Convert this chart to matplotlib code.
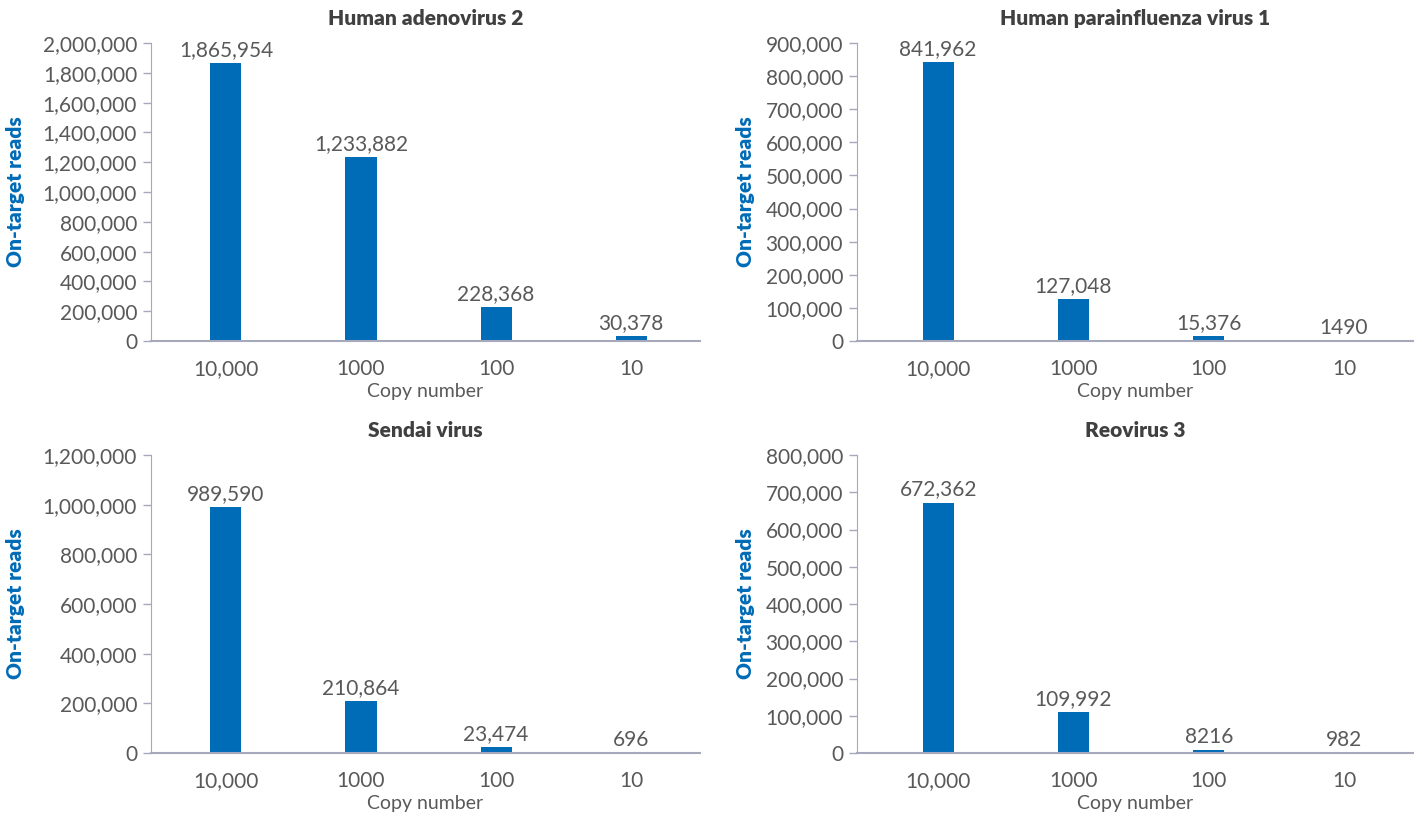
import numpy as np
import matplotlib.pyplot as plt
from matplotlib.ticker import FuncFormatter

plt.rcParams['font.family'] = ['Lato', 'DejaVu Sans']

copy_numbers = ["10,000", "1000", "100", "10"]

titles = ["Human adenovirus 2", "Human parainfluenza virus 1",
          "Sendai virus", "Reovirus 3"]

adenovirus_reads = [1865954, 1233882, 228368, 30378]
parainfluenza_reads = [841962, 127048, 15376, 1490]
sendai_reads = [989590, 210864, 23474, 696]
reovirus_reads = [672362, 109992, 8216, 982]

y_max = [2000000, 900000, 1200000, 800000]
y_step = [200000, 100000, 200000, 100000]

BAR = "#006bb6"
TEXT = "#595959"
SPINE = "#a6a9bc"


def label_fmt(v):
    # four-digit counts are written without a thousands separator
    v = int(v)
    return str(v) if v < 10000 else f"{v:,}"


fig = plt.figure(figsize=(14.22, 8.16), dpi=100)

boxes = [
    (151 / 1422, 1 - 341 / 816, 549 / 1422, 298 / 816),
    (857 / 1422, 1 - 341 / 816, 556 / 1422, 298 / 816),
    (151 / 1422, 1 - 753 / 816, 549 / 1422, 298 / 816),
    (857 / 1422, 1 - 753 / 816, 556 / 1422, 298 / 816),
]
series = [adenovirus_reads, parainfluenza_reads, sendai_reads, reovirus_reads]

for box, title, reads, top, step in zip(boxes, titles, series, y_max, y_step):
    left_col = box[0] < 0.5
    ax = fig.add_axes(box)
    x = np.arange(len(copy_numbers))
    ax.bar(x, reads, width=0.23, color=BAR)
    for xi, v in zip(x, reads):
        ax.text(xi, v + top * 0.01, label_fmt(v), ha="center", va="bottom",
                fontsize=15, color=TEXT)

    ax.set_xlim(-0.555 if left_col else -0.6, 3.51)
    ax.set_ylim(0, top)
    ax.set_yticks(np.arange(0, top + 1, step))
    ax.yaxis.set_major_formatter(FuncFormatter(lambda v, p: f"{int(v):,}"))
    ax.set_xticks(x)
    ax.set_xticklabels(copy_numbers)

    ax.tick_params(axis="y", colors=SPINE, labelcolor=TEXT, labelsize=15,
                   length=6, width=1, direction="out", pad=4)
    ax.tick_params(axis="x", length=0, labelcolor=TEXT, labelsize=15, pad=13)

    for side in ["top", "right"]:
        ax.spines[side].set_visible(False)
    ax.spines["left"].set_color(SPINE)
    ax.spines["bottom"].set_color(SPINE)
    ax.spines["bottom"].set_linewidth(1.5)

    ax.set_xlabel("Copy number", fontsize=14, color=TEXT, labelpad=3)
    ax.set_ylabel("On-target reads", fontsize=15, fontweight="heavy",
                  color=BAR)
    ax.yaxis.set_label_coords(-0.23 if left_col else -0.183, 0.5)
    ax.set_title(title, fontsize=15, fontweight="heavy", color="#404040",
                 pad=13)

fig.savefig("out.png", dpi=100)
